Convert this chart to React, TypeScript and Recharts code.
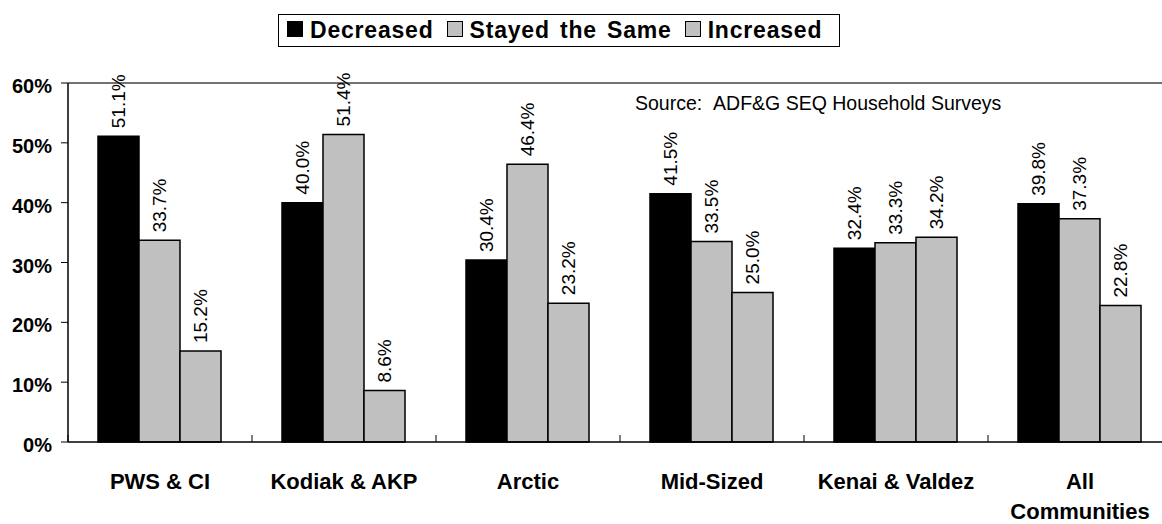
import React from "react";
import {
  BarChart,
  Bar,
  XAxis,
  YAxis,
  LabelList,
  ReferenceLine,
} from "recharts";

const regions = [
  "PWS & CI",
  "Kodiak & AKP",
  "Arctic",
  "Mid-Sized",
  "Kenai & Valdez",
  "All Communities",
];
const decreased = [51.1, 40.0, 30.4, 41.5, 32.4, 39.8];
const stayedSame = [33.7, 51.4, 46.4, 33.5, 33.3, 37.3];
const increased = [15.2, 8.6, 23.2, 25.0, 34.2, 22.8];
const yTicks = [0, 10, 20, 30, 40, 50, 60];

const series = [
  { key: "decreased", name: "Decreased", fill: "#000000" },
  { key: "stayed", name: "Stayed the Same", fill: "#C0C0C0" },
  { key: "increased", name: "Increased", fill: "#C0C0C0" },
];

const data = regions.map((region, i) => ({
  region,
  decreased: decreased[i],
  stayed: stayedSame[i],
  increased: increased[i],
}));

const FONT = "'Liberation Sans', Arial, Helvetica, sans-serif";

function BarLabel(props: any) {
  const { x, y, width, value } = props;
  const cx = x + width / 2;
  const ty = y - 8;
  return (
    <text
      x={cx}
      y={ty}
      transform={`rotate(-90 ${cx} ${ty})`}
      textAnchor="start"
      dominantBaseline="central"
      fontFamily={FONT}
      fontSize={19}
      fill="#000"
    >
      {`${Number(value).toFixed(1)}%`}
    </text>
  );
}

function CategoryTick(props: any) {
  const { x, y, payload, width } = props;
  const band = width ? width / regions.length : 184;
  const words = String(payload.value) === "All Communities"
    ? ["All", "Communities"]
    : [String(payload.value)];
  return (
    <g>
      <line x1={x - band / 2} y1={y} x2={x - band / 2} y2={y - 7} stroke="#000" strokeWidth={1} />
      {words.map((w, i) => (
        <text
          key={w}
          x={x}
          y={y + 47 + i * 30}
          textAnchor="middle"
          fontFamily={FONT}
          fontWeight="bold"
          fontSize={22}
          fill="#000"
        >
          {w}
        </text>
      ))}
    </g>
  );
}

function PercentTick(props: any) {
  const { x, y, payload } = props;
  return (
    <text
      x={x + 1}
      y={y + 10}
      textAnchor="end"
      fontFamily={FONT}
      fontWeight="bold"
      fontSize={20}
      fill="#000"
    >
      {`${payload.value}%`}
    </text>
  );
}

function LegendBox() {
  return (
    <div
      style={{
        position: "absolute",
        left: 278,
        top: 14,
        width: 562,
        height: 33,
        border: "1px solid #000",
        boxSizing: "border-box",
        display: "flex",
        alignItems: "center",
        paddingLeft: 8,
        fontFamily: FONT,
        fontWeight: "bold",
        fontSize: 23,
        letterSpacing: 0.8,
        wordSpacing: 3,
        background: "#fff",
      }}
    >
      {series.map((s) => (
        <span key={s.key} style={{ display: "flex", alignItems: "center", marginRight: 13 }}>
          <span
            style={{
              display: "inline-block",
              width: 16,
              height: 16,
              background: s.fill,
              border: "1px solid #000",
              boxSizing: "border-box",
              marginRight: 7,
              marginTop: -4,
            }}
          />
          <span>{s.name}</span>
        </span>
      ))}
    </div>
  );
}

export default function App() {
  return (
    <div
      style={{
        position: "absolute",
        left: 0,
        top: 0,
        width: 1162,
        height: 524,
        overflow: "hidden",
        background: "#fff",
      }}
    >
      <BarChart
        width={1180}
        height={524}
        data={data}
        margin={{ top: 83, right: 8, bottom: 0, left: 0 }}
        barCategoryGap={30}
        barGap={0}
      >
        <ReferenceLine y={60} stroke="#444" strokeWidth={1.5} />
        <XAxis
          dataKey="region"
          height={82}
          tickSize={0}
          tickMargin={0}
          tickLine={false}
          axisLine={{ stroke: "#000", strokeWidth: 1.5 }}
          tick={<CategoryTick />}
          interval={0}
        />
        <YAxis
          width={68}
          domain={[0, 60]}
          ticks={yTicks}
          interval={0}
          tickSize={7}
          tickMargin={10}
          axisLine={{ stroke: "#000", strokeWidth: 1.5 }}
          tickLine={{ stroke: "#000" }}
          tick={<PercentTick />}
        />
        {series.map((s) => (
          <Bar
            key={s.key}
            dataKey={s.key}
            name={s.name}
            fill={s.fill}
            stroke="#000"
            strokeWidth={1.5}
            isAnimationActive={false}
          >
            <LabelList dataKey={s.key} content={<BarLabel />} />
          </Bar>
        ))}
      </BarChart>
      <LegendBox />
      <div
        style={{
          position: "absolute",
          left: 635,
          top: 92,
          fontFamily: FONT,
          fontSize: 19.5,
          color: "#000",
          whiteSpace: "nowrap",
        }}
      >
        Source:&nbsp;&nbsp;ADF&amp;G SEQ Household Surveys
      </div>
    </div>
  );
}
